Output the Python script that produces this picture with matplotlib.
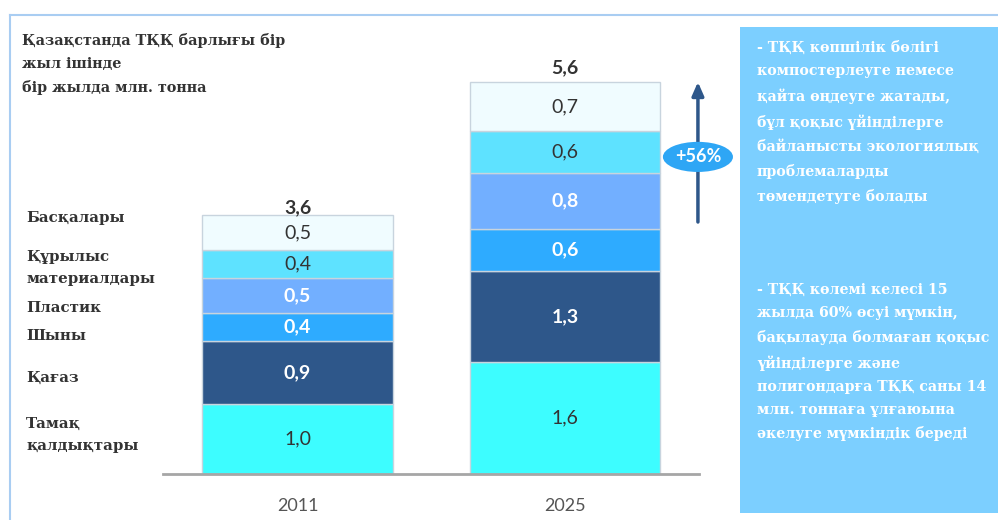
import numpy as np
import matplotlib
matplotlib.use("Agg")
import matplotlib.pyplot as plt
from matplotlib.patches import Ellipse, Rectangle
from matplotlib.lines import Line2D

# data
years = ["2011", "2025"]
categories = ["Тамақ\nқалдықтары", "Қағаз", "Шыны", "Пластик",
              "Құрылыс\nматериалдары", "Басқалары"]
values_2011 = [1.0, 0.9, 0.4, 0.5, 0.4, 0.5]
values_2025 = [1.6, 1.3, 0.6, 0.8, 0.6, 0.7]
totals = [3.6, 5.6]
growth_label = "+56%"

title = "Қазақстанда ТҚҚ барлығы бір\nжыл ішінде\nбір жылда млн. тонна"
note_1 = ("- ТҚҚ көпшілік бөлігі\nкомпостерлеуге немесе\nқайта өңдеуге жатады,\n"
          "бұл қоқыс үйінділерге\nбайланысты экологиялық\nпроблемаларды\n"
          "төмендетуге болады")
note_2 = ("- ТҚҚ көлемі келесі 15\nжылда 60% өсуі мүмкін,\nбақылауда болмаған қоқыс\n"
          "үйінділерге және\nполигондарға ТҚҚ саны 14\nмлн. тоннаға ұлғаюына\n"
          "әкелуге мүмкіндік береді")

colors = ["#3DFDFF", "#2E578A", "#2EABFF", "#72AFFF", "#5EE2FF", "#F0FCFF"]
label_colors = ["#333333", "white", "white", "white", "#333333", "#333333"]
label_weights = ["normal", "bold", "bold", "bold", "normal", "normal"]

W, H = 998, 520
fig = plt.figure(figsize=(W / 100, H / 100), dpi=100)

serif = "DejaVu Serif"
num_font = "Lato"

# outer frame lines
fig.add_artist(Line2D([10 / W, 1], [1 - 15 / H, 1 - 15 / H], color="#A9CDF2", lw=1.5))
fig.add_artist(Line2D([10 / W, 10 / W], [0, 1 - 15 / H], color="#A9CDF2", lw=1.5))

# right info panel
fig.add_artist(Rectangle((740 / W, 1 - 513 / H), (998 - 740) / W, (513 - 27) / H,
                         facecolor="#7CCFFF", edgecolor="none"))
fig.text(757 / W, 1 - 41 / H, note_1, color="white", fontsize=10.2, family=serif,
         weight="bold", va="top", ha="left", linespacing=1.82)
fig.text(757 / W, 1 - 283 / H, note_2, color="white", fontsize=10.2, family=serif,
         weight="bold", va="top", ha="left", linespacing=1.82)

# chart axes: bottom at y=474px, 70px per unit
ax = fig.add_axes([163 / W, 1 - 474 / H, (699 - 163) / W, 420 / H])
ax.set_xlim(-0.503, 1.501)
ax.set_ylim(0, 6.0)
for s in ["top", "right", "left"]:
    ax.spines[s].set_visible(False)
ax.spines["bottom"].set_color("#A6A6A6")
ax.spines["bottom"].set_linewidth(2)
ax.set_yticks([])
ax.set_xticks([0, 1])
ax.set_xticklabels(years, family=num_font, fontsize=13, color="#555555")
ax.tick_params(axis="x", length=0, pad=17)

x = np.arange(len(years))
bw = 0.714
bottoms = np.zeros(len(years))
for i, cat in enumerate(categories):
    vals = np.array([values_2011[i], values_2025[i]])
    ax.bar(x, vals, bw, bottom=bottoms, color=colors[i], edgecolor="#C8D4DE",
           linewidth=1)
    for j in range(len(years)):
        ax.text(x[j], bottoms[j] + vals[j] / 2, f"{vals[j]:.1f}".replace(".", ","),
                ha="center", va="center", fontsize=14, family=num_font,
                color=label_colors[i], weight=label_weights[i])
    bottoms += vals

for j in range(len(years)):
    ax.text(x[j], totals[j] + 0.08, f"{totals[j]:.1f}".replace(".", ","),
            ha="center", va="bottom", fontsize=14, family=num_font,
            weight="bold", color="#333333")

# growth arrow
ax.annotate("", xy=(1.497, totals[1]), xytext=(1.497, totals[0]),
            arrowprops=dict(arrowstyle="-|>,head_width=0.35,head_length=0.8",
                            color="#2E578A", lw=2.5, shrinkA=0, shrinkB=0),
            annotation_clip=False)
ax.add_patch(Ellipse((1.497, 4.53), 0.262, 0.43, facecolor="#2EA6F5",
                     edgecolor="none", clip_on=False, zorder=5))
ax.text(1.497, 4.53, growth_label, ha="center", va="center", color="white",
        fontsize=13, weight="bold", family=num_font, zorder=6)

# left category labels
lab_y = [435, 378, 336, 308, 268, 218]
for cat, yy in zip(categories, lab_y):
    fig.text(26 / W, 1 - yy / H, cat, family=serif, fontsize=10.8, weight="bold",
             color="#333333", va="center", ha="left", linespacing=1.78)

fig.text(22 / W, 1 - 33 / H, title, family=serif, fontsize=10.4, weight="bold",
         color="#333333", va="top", ha="left", linespacing=1.8)

fig.savefig("out.png", dpi=100)
